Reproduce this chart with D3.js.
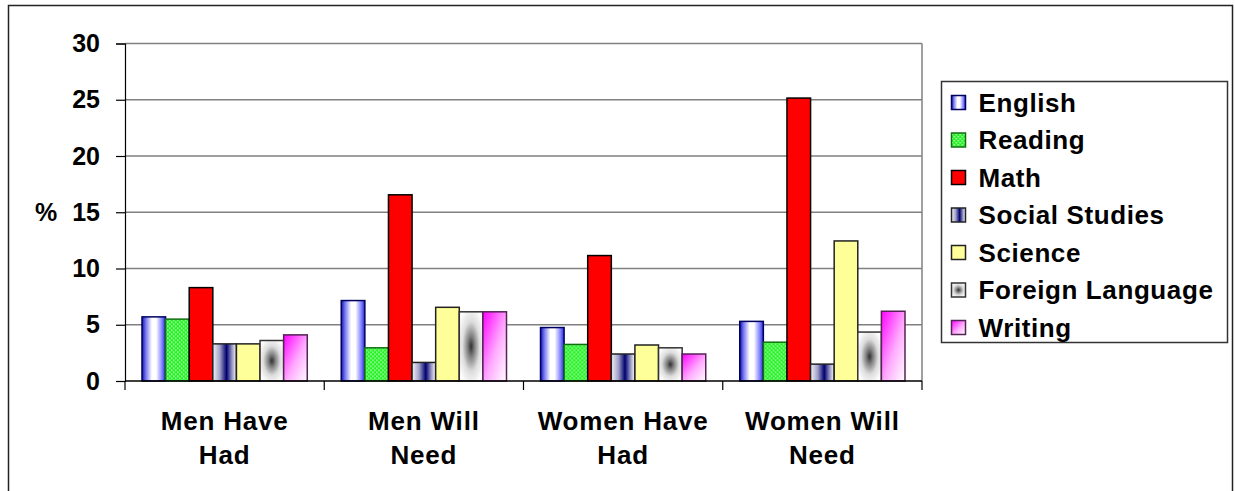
<!DOCTYPE html>
<html>
<head>
<meta charset="utf-8">
<script src="https://cdn.jsdelivr.net/npm/d3@7"></script>
<style>
  body { margin: 0; background: #fff; }
  text { font-family: "Liberation Sans", Arial, sans-serif; font-weight: bold; fill: #000; }
</style>
</head>
<body>
<svg id="chart"></svg>
<script>
const WIDTH = 1235;
const HEIGHT = 491;

// data
const groups = [["Men Have", "Had"], ["Men Will", "Need"], ["Women Have", "Had"], ["Women Will", "Need"]];
const subjects = ["English", "Reading", "Math", "Social Studies", "Science", "Foreign Language", "Writing"];
const english = [5.7, 7.15, 4.75, 5.3];
const reading = [5.5, 2.95, 3.25, 3.45];
const math = [8.3, 16.55, 11.15, 25.15];
const socialStudies = [3.3, 1.65, 2.4, 1.5];
const science = [3.3, 6.55, 3.2, 12.45];
const foreignLanguage = [3.6, 6.15, 2.95, 4.35];
const writing = [4.1, 6.15, 2.4, 6.2];
const yTicks = [0, 5, 10, 15, 20, 25, 30];

const series = [english, reading, math, socialStudies, science, foreignLanguage, writing];

const margin = {top: 43.5, left: 125, right: 313, bottom: 110};
const plotW = WIDTH - margin.left - margin.right;
const plotH = HEIGHT - margin.top - margin.bottom;

const svg = d3.select('#chart').attr('width', WIDTH).attr('height', HEIGHT);
const defs = svg.append('defs');

// fills
function linGrad(id, x2, y2, stops) {
    const g = defs.append('linearGradient').attr('id', id)
        .attr('x1', 0).attr('y1', 0).attr('x2', x2).attr('y2', y2);
    stops.forEach(s => g.append('stop').attr('offset', s[0]).attr('stop-color', s[1]));
}
linGrad('gEnglish', 1, 0, [[0, '#1010b0'], [0.15, '#7070f0'], [0.42, '#ffffff'], [0.6, '#ffffff'], [0.85, '#8080ff'], [1, '#2828d0']]);
linGrad('gSocial', 1, 0, [[0, '#f4f4f8'], [0.3, '#a0a0c8'], [0.58, '#000070'], [0.8, '#9090c0'], [1, '#ffffff']]);
linGrad('gWriting', 1, 1, [[0, '#ff00ff'], [0.55, '#ffaaff'], [1, '#ffffff']]);
const rg = defs.append('radialGradient').attr('id', 'gForeign').attr('cx', 0.5).attr('cy', 0.5).attr('r', 0.6);
[[0, '#303030'], [0.25, '#808080'], [0.6, '#dcdcdc'], [1, '#ffffff']]
    .forEach(s => rg.append('stop').attr('offset', s[0]).attr('stop-color', s[1]));
const pat = defs.append('pattern').attr('id', 'pReading')
    .attr('patternUnits', 'userSpaceOnUse').attr('width', 4).attr('height', 4);
pat.append('rect').attr('width', 4).attr('height', 4).attr('fill', '#20f020');
pat.append('rect').attr('width', 1.5).attr('height', 1.5).attr('fill', '#c0ffc0');
pat.append('rect').attr('x', 2).attr('y', 2).attr('width', 1.5).attr('height', 1.5).attr('fill', '#c0ffc0');

const fills = ['url(#gEnglish)', 'url(#pReading)', '#ff0000', 'url(#gSocial)', '#ffff99', 'url(#gForeign)', 'url(#gWriting)'];
const strokes = ['#000060', '#107010', '#000', '#222', '#222', '#333', '#552255'];

// outer frame
svg.append('rect').attr('x', 8.5).attr('y', 5.5).attr('width', 1224).attr('height', 490)
    .attr('fill', 'none').attr('stroke', '#222').attr('stroke-width', 1.5);

const g = svg.append('g').attr('transform', `translate(${margin.left},${margin.top})`);

const y = d3.scaleLinear().domain([0, 30]).range([plotH, 0]);
const x0 = d3.scaleBand().domain(d3.range(groups.length)).range([0, plotW]).padding(0);
const x1 = d3.scaleBand().domain(d3.range(subjects.length)).range([0, x0.bandwidth()])
    .paddingInner(0).paddingOuter(0.72);

// gridlines
g.append('g').selectAll('line').data(yTicks.filter(t => t > 0)).join('line')
    .attr('x1', 0).attr('x2', plotW)
    .attr('y1', d => y(d)).attr('y2', d => y(d))
    .attr('stroke', '#808080').attr('stroke-width', 1.5);
g.append('line').attr('x1', plotW).attr('x2', plotW).attr('y1', 0).attr('y2', plotH)
    .attr('stroke', '#808080').attr('stroke-width', 1.5);

// bars
const bars = g.append('g');
groups.forEach((grp, gi) => {
    bars.append('g').attr('transform', `translate(${x0(gi)},0)`)
        .selectAll('rect').data(series.map((s, si) => ({si, v: s[gi]}))).join('rect')
        .attr('x', d => x1(d.si))
        .attr('width', x1.bandwidth())
        .attr('y', d => y(d.v))
        .attr('height', d => y(0) - y(d.v))
        .attr('fill', d => fills[d.si])
        .attr('stroke', d => strokes[d.si])
        .attr('stroke-width', 1.5);
});

// y axis
const yAxis = d3.axisLeft(y).tickValues(yTicks).tickSize(9).tickPadding(16);
const yAxisEl = g.append('g').call(yAxis);
yAxisEl.select('.domain').attr('stroke', '#000').attr('stroke-width', 1.2);
yAxisEl.selectAll('.tick line').attr('stroke', '#000').attr('stroke-width', 1.2);
yAxisEl.selectAll('.tick text')
    .style('font-size', '25px').style('font-family', '"Liberation Sans", Arial, sans-serif')
    .style('font-weight', 'bold').attr('fill', '#000');

svg.append('text').attr('x', 35).attr('y', y(15) + margin.top + 9)
    .style('font-size', '25px').text('%');

// x axis
g.append('line').attr('x1', 0).attr('x2', plotW).attr('y1', plotH).attr('y2', plotH)
    .attr('stroke', '#000').attr('stroke-width', 1.5);
g.append('g').selectAll('line').data(d3.range(groups.length + 1)).join('line')
    .attr('x1', d => d * x0.step()).attr('x2', d => d * x0.step())
    .attr('y1', plotH).attr('y2', plotH + 9)
    .attr('stroke', '#000').attr('stroke-width', 1.2);

const cat = g.append('g').selectAll('text').data(groups).join('text')
    .attr('text-anchor', 'middle')
    .attr('transform', (d, i) => `translate(${x0(i) + x0.bandwidth() / 2},${plotH + 49})`)
    .style('font-size', '26px').style('letter-spacing', '0.8px');
cat.append('tspan').attr('x', 0).attr('y', 0).text(d => d[0]);
cat.append('tspan').attr('x', 0).attr('y', 34).text(d => d[1]);

// legend
const legend = svg.append('g').attr('transform', 'translate(941.5,81.5)');
legend.append('rect').attr('width', 286).attr('height', 261)
    .attr('fill', '#fff').attr('stroke', '#333').attr('stroke-width', 1.5);
const item = legend.selectAll('g.item').data(subjects).join('g').attr('class', 'item')
    .attr('transform', (d, i) => `translate(0,${21 + i * 37.5})`);
item.append('rect').attr('x', 10).attr('y', -7).attr('width', 14).attr('height', 14)
    .attr('fill', (d, i) => fills[i]).attr('stroke', (d, i) => strokes[i]).attr('stroke-width', 1.5);
item.append('text').attr('x', 37).attr('y', 9).style('font-size', '26px')
    .style('letter-spacing', '0.6px').text(d => d);
</script>
</body>
</html>
